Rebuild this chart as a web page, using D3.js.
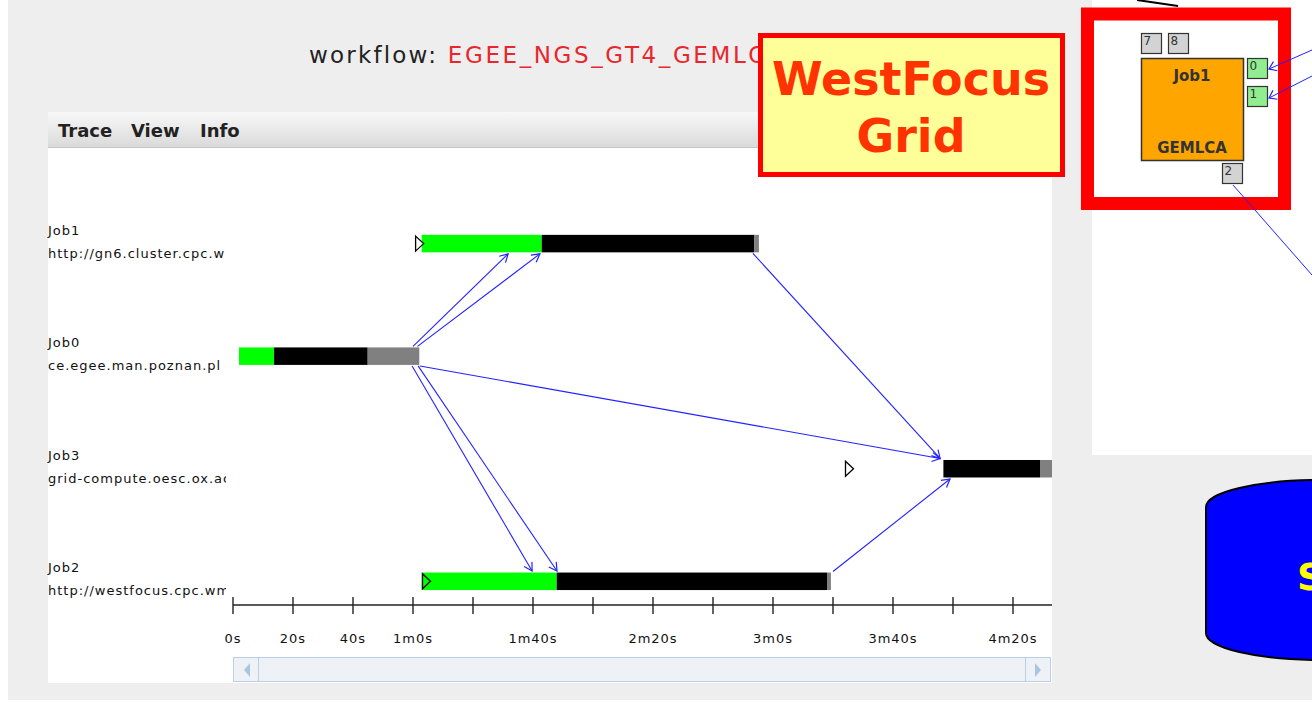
<!DOCTYPE html>
<html><head><meta charset="utf-8">
<script src="https://cdn.jsdelivr.net/npm/d3@7"></script>
<style>body{margin:0;background:#fff;overflow:hidden}</style>
</head><body><svg id="c" width="1312" height="711"></svg>
<script>
// ---- data ----
const jobs = ["Job1", "Job0", "Job3", "Job2"];
const hosts = ["http://gn6.cluster.cpc.wmin.ac.uk", "ce.egee.man.poznan.pl", "grid-compute.oesc.ox.ac.uk", "http://westfocus.cpc.wmin.ac.uk"];
const submitTime = [60.7, null, 204, 63];        // open triangle markers (s)
const greenStart = [62.9, 2, null, 62.9];
const greenEnd   = [102.9, 13.7, null, 107.9];
const blackStart = [102.9, 13.7, 236.8, 107.9];
const blackEnd   = [173.8, 44.9, 269, 198];
const grayEnd    = [175.3, 62.1, 276, 199.3];
const tickValues = [0, 20, 40, 60, 80, 100, 120, 140, 160, 180, 200, 220, 240, 260];
const tickLabels = ["0s", "20s", "40s", "1m0s", "", "1m40s", "", "2m20s", "", "3m0s", "", "3m40s", "", "4m20s"];
const arrowFrom = ["Job0", "Job0", "Job0", "Job0", "Job0", "Job1", "Job2"];
const arrowTo   = ["Job1", "Job1", "Job3", "Job2", "Job2", "Job3", "Job3"];
const arrowT0   = [60, 61.5, 62.3, 59.7, 61.7, 173.3, 200];
const arrowT1   = [91.7, 102.3, 235.7, 99.7, 108, 235.7, 239];

const svg = d3.select("#c");
const defs = svg.append("defs");

// background
svg.append("rect").attr("x", 8).attr("y", 0).attr("width", 1304).attr("height", 700).attr("fill", "#eeeeee");

// ---- title ----
const title = svg.append("text").attr("x", 309).attr("y", 63)
  .attr("font-family", "DejaVu Sans, sans-serif").attr("font-size", 23);
title.append("tspan").attr("fill", "#222").attr("letter-spacing", 2.2).text("workflow: ");
title.append("tspan").attr("fill", "#e8272d").attr("letter-spacing", 2.6).text("EGEE_NGS_GT4_GEMLCA");

// ---- main panel ----
svg.append("rect").attr("x", 48).attr("y", 112).attr("width", 1004).attr("height", 571).attr("fill", "#fff");
const grad = defs.append("linearGradient").attr("id", "menuG").attr("x1", 0).attr("y1", 0).attr("x2", 0).attr("y2", 1);
grad.append("stop").attr("offset", 0).attr("stop-color", "#f8f8f8");
grad.append("stop").attr("offset", 1).attr("stop-color", "#dadada");
svg.append("rect").attr("x", 48).attr("y", 112).attr("width", 1004).attr("height", 35).attr("fill", "url(#menuG)");
svg.append("line").attr("x1", 48).attr("x2", 1052).attr("y1", 147.5).attr("y2", 147.5).attr("stroke", "#c6c6c6");
[["Trace", 58], ["View", 131], ["Info", 200]].forEach(([t, x]) => {
  svg.append("text").attr("x", x).attr("y", 137).attr("font-family", "DejaVu Sans, sans-serif")
    .attr("font-weight", "bold").attr("font-size", 18).attr("fill", "#222").text(t);
});

defs.append("clipPath").attr("id", "plotClip").append("rect").attr("x", 228).attr("y", 148).attr("width", 824).attr("height", 500);
defs.append("clipPath").attr("id", "labClip").append("rect").attr("x", 40).attr("y", 148).attr("width", 186).attr("height", 500);

const x = d3.scaleLinear().domain([0, 260]).range([233, 1013]);
const y = d3.scalePoint().domain(jobs).range([243.6, 581.3]);
const bh = 17.5;

// labels
const lab = svg.append("g").attr("clip-path", "url(#labClip)")
  .attr("font-family", "DejaVu Sans, sans-serif").attr("font-size", 13).attr("fill", "#111").attr("letter-spacing", 1);
jobs.forEach((j, i) => {
  lab.append("text").attr("x", 48).attr("y", y(j) - 9).text(j);
  lab.append("text").attr("x", 48).attr("y", y(j) + 14).text(hosts[i]);
});

const plot = svg.append("g").attr("clip-path", "url(#plotClip)");
const segs = [];
jobs.forEach((j, i) => {
  if (greenStart[i] != null) segs.push({ j, a: greenStart[i], b: greenEnd[i], c: "#00ff00" });
  segs.push({ j, a: blackStart[i], b: blackEnd[i], c: "#000" });
  segs.push({ j, a: blackEnd[i], b: grayEnd[i], c: "#808080" });
});
plot.selectAll("rect.seg").data(segs).enter().append("rect").attr("class", "seg")
  .attr("x", d => x(d.a)).attr("width", d => x(d.b) - x(d.a))
  .attr("y", d => y(d.j) - bh / 2).attr("height", bh).attr("fill", d => d.c);

// submit triangles
jobs.forEach((j, i) => {
  if (submitTime[i] == null) return;
  const x0 = x(submitTime[i]) + 0.5, cy = y(j);
  plot.append("path").attr("d", `M${x0},${cy - 7.5}L${x0 + 8},${cy}L${x0},${cy + 7.5}Z`)
    .attr("fill", i === 3 ? "#00ff00" : "#fff").attr("stroke", "#000").attr("stroke-width", 1.3);
});

// dependency arrows
defs.append("marker").attr("id", "ah").attr("viewBox", "-10 -6 12 12").attr("refX", 0).attr("refY", 0)
  .attr("markerWidth", 12).attr("markerHeight", 12).attr("markerUnits", "userSpaceOnUse").attr("orient", "auto")
  .append("path").attr("d", "M-8,-4.5L0,0L-8,4.5").attr("fill", "none").attr("stroke", "#2222ff").attr("stroke-width", 1.2);
arrowFrom.forEach((f, k) => {
  const t = arrowTo[k];
  const down = y(t) > y(f);
  const y0 = y(f) + (down ? bh / 2 + 1 : -bh / 2 - 1);
  const y1 = y(t) + (down ? -bh / 2 - 1.5 : bh / 2 + 1.5);
  plot.append("line").attr("x1", x(arrowT0[k])).attr("y1", y0).attr("x2", x(arrowT1[k])).attr("y2", y1)
    .attr("stroke", "#2222ff").attr("stroke-width", 1.1).attr("marker-end", "url(#ah)");
});

// axis
const axisY = 605;
const ax = svg.append("g");
ax.append("line").attr("x1", 233).attr("x2", 1052).attr("y1", axisY).attr("y2", axisY).attr("stroke", "#222").attr("stroke-width", 1.4);
ax.selectAll("line.tk").data(tickValues).enter().append("line").attr("class", "tk")
  .attr("x1", d => x(d)).attr("x2", d => x(d)).attr("y1", axisY - 8).attr("y2", axisY + 9)
  .attr("stroke", "#222").attr("stroke-width", 1.4);
ax.selectAll("text.tl").data(tickValues).enter().append("text").attr("class", "tl")
  .attr("x", d => x(d)).attr("y", 643).attr("text-anchor", "middle")
  .attr("font-family", "DejaVu Sans, sans-serif").attr("font-size", 13).attr("letter-spacing", 1).attr("fill", "#111")
  .text((d, i) => tickLabels[i]);

// scrollbar
svg.append("rect").attr("x", 233.5).attr("y", 657.5).attr("width", 817).attr("height", 24).attr("fill", "#eef1f5").attr("stroke", "#b9cfe6");
svg.append("line").attr("x1", 258.5).attr("x2", 258.5).attr("y1", 658).attr("y2", 681).attr("stroke", "#b9cfe6");
svg.append("line").attr("x1", 1025.5).attr("x2", 1025.5).attr("y1", 658).attr("y2", 681).attr("stroke", "#b9cfe6");
svg.append("path").attr("d", "M250,663L244,670L250,677Z").attr("fill", "#a9c5e2");
svg.append("path").attr("d", "M1035,663L1041,670L1035,677Z").attr("fill", "#a9c5e2");

// ---- WestFocus Grid callout ----
svg.append("rect").attr("x", 760.5).attr("y", 35.5).attr("width", 302).attr("height", 139).attr("fill", "#ffff99").attr("stroke", "#ff0000").attr("stroke-width", 5);
[["WestFocus", 95], ["Grid", 152]].forEach(([t, yy]) => {
  svg.append("text").attr("x", 911).attr("y", yy).attr("text-anchor", "middle")
    .attr("font-family", "DejaVu Sans, sans-serif").attr("font-weight", "bold").attr("font-size", 46)
    .attr("fill", "#ff3300").text(t);
});

// ---- right workflow editor panel ----
svg.append("rect").attr("x", 1092).attr("y", 0).attr("width", 220).attr("height", 455).attr("fill", "#fff");
svg.append("line").attr("x1", 1137).attr("y1", 0).attr("x2", 1178).attr("y2", 6).attr("stroke", "#000").attr("stroke-width", 2);
svg.append("rect").attr("x", 1087.5).attr("y", 14).attr("width", 197).attr("height", 189.5).attr("fill", "#fff").attr("stroke", "#ff0000").attr("stroke-width", 13);
svg.append("rect").attr("x", 1141.5).attr("y", 58.5).attr("width", 102).attr("height", 102).attr("fill", "#ffa500").attr("stroke", "#333").attr("stroke-width", 1.5);
svg.append("text").attr("x", 1192).attr("y", 81).attr("text-anchor", "middle").attr("font-family", "DejaVu Sans, sans-serif")
  .attr("font-weight", "bold").attr("font-size", 15).attr("fill", "#333").text("Job1");
svg.append("text").attr("x", 1192).attr("y", 153).attr("text-anchor", "middle").attr("font-family", "DejaVu Sans, sans-serif")
  .attr("font-weight", "bold").attr("font-size", 15).attr("fill", "#333").text("GEMLCA");
[["7", 1141.5, 33.5, "#d3d3d3"], ["8", 1168.5, 33.5, "#d3d3d3"], ["0", 1247.5, 58.5, "#90ee90"], ["1", 1247.5, 86.5, "#90ee90"], ["2", 1222.5, 163.5, "#d3d3d3"]]
  .forEach(([t, px, py, c]) => {
    svg.append("rect").attr("x", px).attr("y", py).attr("width", 20).attr("height", 20).attr("fill", c).attr("stroke", "#333").attr("stroke-width", 1.2);
    svg.append("text").attr("x", px + 2).attr("y", py + 11).attr("font-family", "DejaVu Sans, sans-serif")
      .attr("font-size", 12).attr("fill", "#333").text(t);
  });
defs.append("marker").attr("id", "ah2").attr("viewBox", "-10 -6 12 12").attr("refX", 0).attr("refY", 0)
  .attr("markerWidth", 12).attr("markerHeight", 12).attr("markerUnits", "userSpaceOnUse").attr("orient", "auto")
  .append("path").attr("d", "M-7,-5L0,0L-7,5").attr("fill", "none").attr("stroke", "#2222ff").attr("stroke-width", 1.2);
[[1312, 50, 1269, 69], [1312, 76, 1269, 98]].forEach(([a, b, c, d]) => {
  svg.append("line").attr("x1", a).attr("y1", b).attr("x2", c).attr("y2", d).attr("stroke", "#2222ff").attr("stroke-width", 1).attr("marker-end", "url(#ah2)");
});
svg.append("line").attr("x1", 1233).attr("y1", 185).attr("x2", 1312).attr("y2", 275).attr("stroke", "#2222ff").attr("stroke-width", 1);

// storage cylinder
svg.append("path").attr("d", "M1206,507A114,27 0 0,1 1434,507L1434,633A114,27 0 0,1 1206,633Z")
  .attr("fill", "#0000ff").attr("stroke", "#000").attr("stroke-width", 2);
svg.append("text").attr("x", 1297).attr("y", 590).attr("font-family", "DejaVu Sans, sans-serif")
  .attr("font-weight", "bold").attr("font-size", 38).attr("fill", "#ffff00").text("Storage");
</script></body></html>
